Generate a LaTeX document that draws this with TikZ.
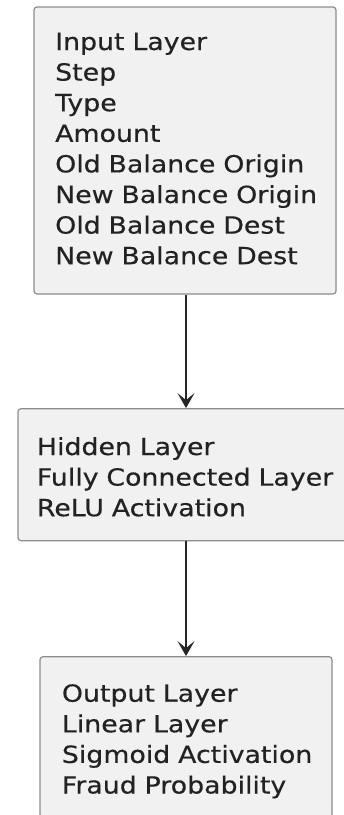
\documentclass[tikz,border=0pt]{standalone}
\usepackage{fontspec}
\setmainfont{DejaVu Sans}[FakeStretch=1.135,FakeBold=0.4]
\usetikzlibrary{arrows.meta}
\definecolor{boxfill}{HTML}{F1F1F1}
\definecolor{boxdraw}{HTML}{8C8C8C}
\definecolor{txt}{HTML}{222222}
\begin{document}
\begin{tikzpicture}[x=1pt,y=-1pt,
  layerbox/.style={draw=boxdraw, fill=boxfill, line width=1.2pt, rounded corners=3pt, inner sep=0pt},
  layertext/.style={anchor=base west, inner sep=0pt, text width=320pt, align=left, text=txt,
    font=\fontsize{23.6}{30.6}\selectfont},
  flow/.style={draw=black!85, line width=1.1pt, -{Stealth[length=15pt,width=17pt,inset=7pt]}}]
\useasboundingbox (0,0) rectangle (344,815);
\fill[white] (0,0) rectangle (344,815);
\clip (0,0) rectangle (344,815);
\node[layerbox, minimum width=302pt, minimum height=287pt] (b1) at (185,150.5) {};
\node[layerbox, minimum width=336pt, minimum height=132pt] (b2) at (186,474.7) {};
\node[layerbox, minimum width=292pt, minimum height=161pt] (b3) at (186,737.2) {};
\node[layertext] (t1) at (55,50) {Input Layer\\Step\\Type\\Amount\\Old Balance Origin\\New Balance Origin\\Old Balance Dest\\New Balance Dest};
\node[layertext] (t2) at (36.7,455) {Hidden Layer\\Fully Connected Layer\\ReLU Activation};
\node[layertext] (t3) at (61.7,701.7) {Output Layer\\Linear Layer\\Sigmoid Activation\\Fraud Probability};
\draw[flow] (b1.south -| b2.north) -- (b2.north);
\draw[flow] (b2.south) -- (b3.north);
\end{tikzpicture}
\end{document}
